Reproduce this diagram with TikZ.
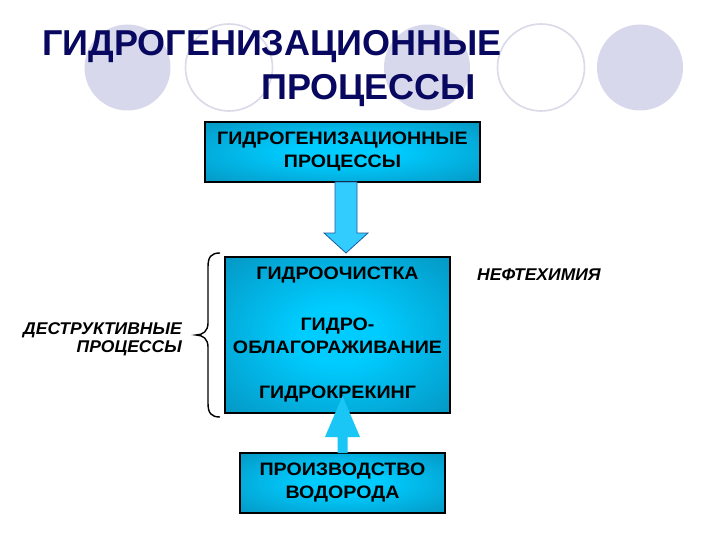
\documentclass[tikz,border=0pt]{standalone}
\usepackage{fontspec}
\setmainfont{Liberation Sans}
\newfontfamily\boxfont[FakeStretch=1.09]{Liberation Sans}
\newfontfamily\sidefont[FakeStretch=1.03]{Liberation Sans}
\usetikzlibrary{calc}
\definecolor{titlenavy}{RGB}{8,8,96}
\definecolor{lav}{RGB}{216,216,236}
\definecolor{lavline}{RGB}{218,218,232}
\definecolor{arrowcyan}{RGB}{51,204,255}
\definecolor{arrowedge}{RGB}{30,90,160}
\definecolor{upcyan}{RGB}{25,198,245}
\pgfdeclareradialshading{boxglow}{\pgfpoint{0bp}{0bp}}{rgb(0bp)=(0,0.8,1); rgb(9bp)=(0,0.8,1); rgb(40bp)=(0.02,0.56,0.73); rgb(72bp)=(0.04,0.36,0.48)}
\begin{document}
\begin{tikzpicture}[x=1pt,y=-1pt,
  bgdisc/.style={circle,fill=lav,minimum size=86pt,inner sep=0pt},
  bgring/.style={circle,draw=lavline,line width=1.6pt,minimum size=87pt,inner sep=0pt},
  titletext/.style={inner sep=0pt,anchor=base west,text=titlenavy,font=\fontsize{36}{40}\selectfont\bfseries},
  procbox/.style={draw=black,line width=2.2pt,shading=boxglow,outer sep=0pt,inner sep=0pt,align=center,
    font=\boxfont\fontsize{18}{23}\selectfont\bfseries},
  downarrow/.style={fill=arrowcyan,draw=arrowedge,line width=0.8pt},
  uparrow/.style={fill=upcyan},
  sidelabel/.style={inner sep=0pt,font=\sidefont\fontsize{17}{18}\selectfont\bfseries\itshape}]
\useasboundingbox (0,0) rectangle (720,540);
\fill[white] (0,0) rectangle (720,540);
% background circles
\node[bgdisc] (c1) at (127.5,67.5) {};
\node[bgring] (c2) at (229,67.5) {};
\node[bgdisc] (c3) at (427,67.5) {};
\node[bgring] (c4) at (541,67.5) {};
\node[bgdisc] (c5) at (640,67.5) {};
% title
\node[titletext] (title1) at (42,55.5) {ГИДРОГЕНИЗАЦИОННЫЕ};
\node[titletext] (title2) at (261,100) {ПРОЦЕССЫ};
% boxes
\node[procbox,minimum width=275pt,minimum height=60pt] (b1) at (342.5,152) {ГИДРОГЕНИЗАЦИОННЫЕ\\ПРОЦЕССЫ};
\node[procbox,minimum width=225pt,minimum height=156pt] (b2) at (337.5,335) {ГИДРООЧИСТКА\\[28pt]ГИДРО-\\ОБЛАГОРАЖИВАНИЕ\\[22pt]ГИДРОКРЕКИНГ};
\node[procbox,minimum width=205pt,minimum height=60pt] (b3) at (342.5,483) {ПРОИЗВОДСТВО\\ВОДОРОДА};
% down block arrow
\coordinate (dtop) at ($(b1.south)+(3.5,0)$);
\coordinate (dtip) at ($(b2.north)+(8.5,-4)$);
\draw[downarrow] ($(dtop)+(-11,0)$) -- ($(dtop)+(11,0)$) -- ($(dtip)+(11,-20)$) -- ($(dtip)+(22,-20)$)
  -- (dtip) -- ($(dtip)+(-22,-20)$) -- ($(dtip)+(-11,-20)$) -- cycle;
% up block arrow
\coordinate (ubase) at (b3.north);
\coordinate (utip) at ($(b2.south)+(5,-17)$);
\fill[uparrow] ($(ubase)+(-5,0)$) -- ($(ubase)+(5,0)$) -- ($(ubase)+(5,-16)$) -- ($(ubase)+(17.5,-16)$)
  -- (utip) -- ($(ubase)+(-17.5,-16)$) -- ($(ubase)+(-5,-16)$) -- cycle;
% brace
\draw[line width=1.4pt] (220,253) .. controls (211,253) and (208,257) .. (208,267) -- (208,323)
  .. controls (208,331) and (203,335) .. (196,335) .. controls (203,335) and (208,339) .. (208,347)
  -- (208,403) .. controls (208,413) and (211,417) .. (220,417);
% side labels
\node[sidelabel,anchor=east,align=right] (destr) at (182,339) {ДЕСТРУКТИВНЫЕ\\ПРОЦЕССЫ};
\node[sidelabel,anchor=west] (neft) at (477,275) {НЕФТЕХИМИЯ};
\end{tikzpicture}
\end{document}
